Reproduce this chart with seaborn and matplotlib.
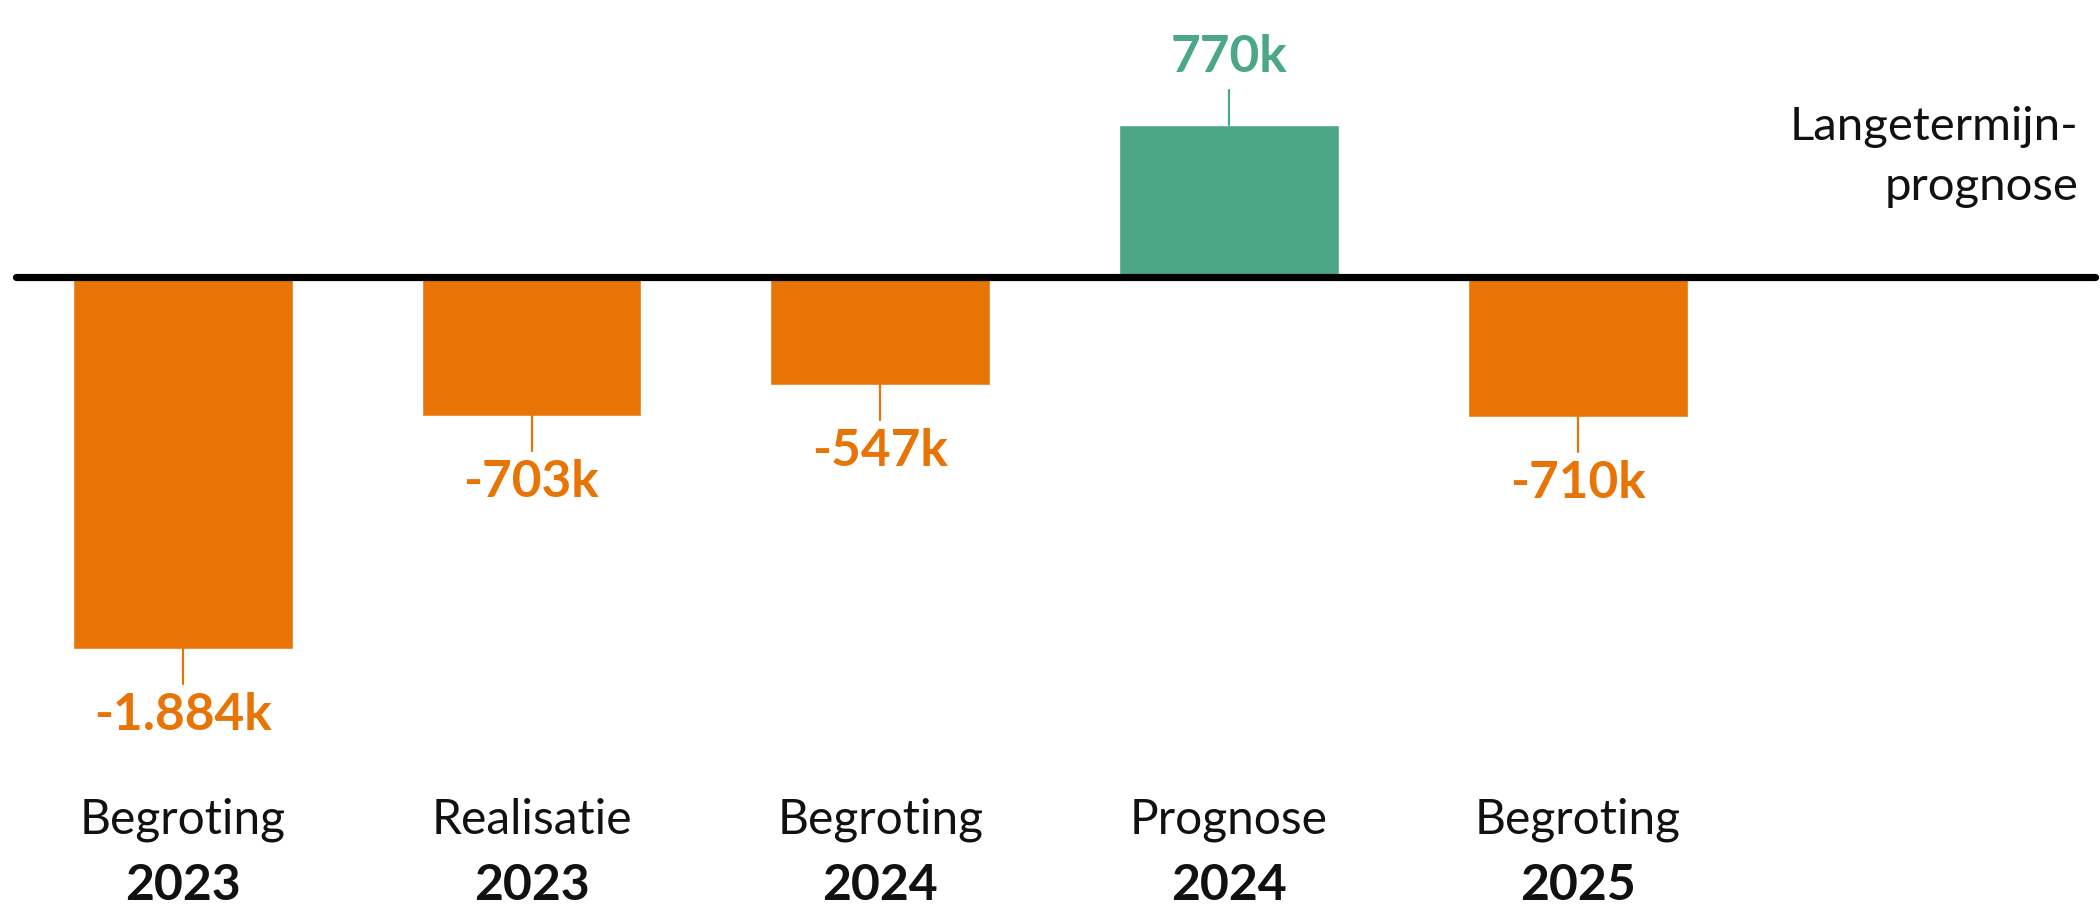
import matplotlib
matplotlib.use("Agg")
import matplotlib.pyplot as plt
import seaborn as sns
import pandas as pd

# ---- data ----
categories = ["Begroting 2023", "Realisatie 2023", "Begroting 2024", "Prognose 2024", "Begroting 2025"]
cat_top = ["Begroting", "Realisatie", "Begroting", "Prognose", "Begroting"]
cat_year = ["2023", "2023", "2024", "2024", "2025"]
values = [-1884, -703, -547, 770, -710]          # in thousands
value_labels = ["-1.884k", "-703k", "-547k", "770k", "-710k"]
extra_label = "Langetermijn-\nprognose"

ORANGE = "#E87405"
GREEN = "#4CA787"
bar_colors = [GREEN if v > 0 else ORANGE for v in values]

sns.set_theme(style="white")
plt.rcParams["font.family"] = ["Lato", "DejaVu Sans"]

W, H, DPI = 2100, 906, 100
fig = plt.figure(figsize=(W / DPI, H / DPI), dpi=DPI)
ax = fig.add_axes([0, 0, 1, 1])

df = pd.DataFrame({"cat": categories, "val": values})
sns.barplot(data=df, x="cat", y="val", hue="cat", palette=bar_colors,
            legend=False, width=0.63, ax=ax, saturation=1, zorder=2)

# scale: px per thousand / px per category
s = 0.1976
base_px = 277
unit = 348.8
x0_px = 182.7
ax.set_xlim(-x0_px / unit, (W - x0_px) / unit)
ax.set_ylim(-(H - base_px) / s, base_px / s)
ax.axis("off")

# zero line
ax.plot([(16 - x0_px) / unit, (2095 - x0_px) / unit], [0, 0], color="black",
        lw=5.2, solid_capstyle="round", zorder=5)

lead = 35 / s
for i, (v, lab, c) in enumerate(zip(values, value_labels, bar_colors)):
    sign = 1 if v > 0 else -1
    ax.plot([i, i], [v, v + sign * lead], color=c, lw=1.6, zorder=3)
    off = 53 if v > 0 else -81
    ax.annotate(lab, xy=(i, v), xytext=(0, off * 72 / DPI),
                textcoords="offset points", ha="center", va="baseline",
                color=c, fontsize=37, fontweight="bold")

# category labels (two lines, different weight)
for i, (t, y) in enumerate(zip(cat_top, cat_year)):
    ax.text(i, 1 - 834 / H, t, transform=ax.get_xaxis_transform(),
            ha="center", va="baseline", fontsize=34.5, color="#111111")
    ax.text(i, 1 - 900 / H, y, transform=ax.get_xaxis_transform(),
            ha="center", va="baseline", fontsize=36, fontweight="bold",
            color="#111111")

# long-term prognosis label (category without a bar)
l1, l2 = extra_label.split("\n")
ax.text(2078 / W, 1 - 140 / H, l1, transform=ax.transAxes, ha="right",
        va="baseline", fontsize=34, color="#111111")
ax.text(2078 / W, 1 - 200 / H, l2, transform=ax.transAxes, ha="right",
        va="baseline", fontsize=34, color="#111111")

fig.savefig("out.png", dpi=DPI)
